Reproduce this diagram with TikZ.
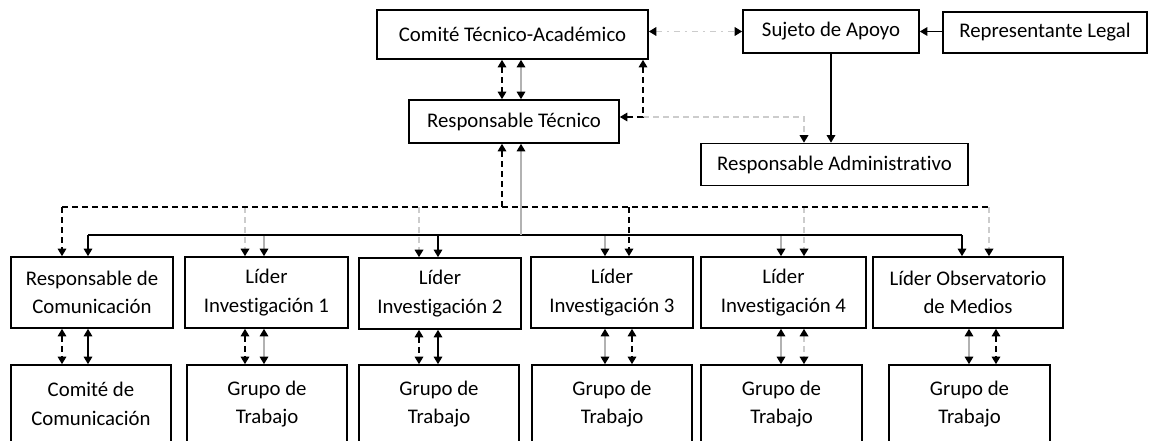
\documentclass[tikz,border=0pt]{standalone}
\usepackage{fontspec}
\setmainfont{Carlito}[Ligatures=NoCommon]
\usetikzlibrary{arrows.meta}

\begin{document}
\begin{tikzpicture}[x=1pt, y=-1pt,
  caja/.style={draw, line width=1.6pt, align=center, inner sep=0pt, font=\fontsize{20.8}{28.5}\selectfont},
  fila1/.style={caja, minimum height=71pt},
  fila2/.style={caja, minimum height=78pt, minimum width=160pt},
  sblk/.style={black, line width=1.4pt},
  sgry/.style={gray!60, line width=1.4pt},
  dblk/.style={black, line width=1.4pt, dash pattern=on 6pt off 4pt},
  dgry/.style={gray!40, line width=1.7pt, dash pattern=on 6pt off 4pt},
  dotgry/.style={gray!40, line width=1.7pt, dash pattern=on 6pt off 5pt on 2pt off 5pt},
  >={Triangle[width=8.5pt, length=7.5pt, color=black]}]
\useasboundingbox (0,0) rectangle (1149,441);
\clip (0,0) rectangle (1149,441);

\node[caja, minimum width=271pt, minimum height=49pt] (cta) at (512.5,34.5) {Comité Técnico-Académico};
\node[caja, minimum width=176pt, minimum height=43pt] (suj) at (831,31.5) {Sujeto de Apoyo};
\node[caja, minimum width=204pt, minimum height=41pt] (rep) at (1045,32.5) {Representante Legal};
\node[caja, minimum width=210pt, minimum height=43pt] (rtec) at (514,121.5) {Responsable Técnico};
\node[caja, minimum width=267pt, minimum height=42pt] (radm) at (834.5,164.5) {Responsable Administrativo};

\node[fila1, minimum width=162pt] (rc) at (92,292.5) {Responsable de\\Comunicación};
\node[fila1, minimum width=163pt] (li1) at (266.5,292.5) {Líder\\Investigación 1};
\node[fila1, minimum width=162pt] (li2) at (440,293.5) {Líder\\Investigación 2};
\node[fila1, minimum width=162pt] (li3) at (612,292.5) {Líder\\Investigación 3};
\node[fila1, minimum width=165pt] (li4) at (783.5,292.5) {Líder\\Investigación 4};
\node[fila1, minimum width=190pt] (lom) at (968,292.5) {Líder Observatorio\\de Medios};

\node[fila2] (cc) at (91,404) {Comité de\\Comunicación};
\node[fila2] (g1) at (267,404) {Grupo de\\Trabajo};
\node[fila2] (g2) at (439,404) {Grupo de\\Trabajo};
\node[fila2] (g3) at (612,404) {Grupo de\\Trabajo};
\node[fila2, minimum width=161pt] (g4) at (781.5,404) {Grupo de\\Trabajo};
\node[fila2, minimum width=161pt] (g5) at (969.5,404) {Grupo de\\Trabajo};

\coordinate (dtec) at (502,207);
\coordinate (stec) at (521,235);
\coordinate (esq) at (643,117);
\coordinate (eadm) at (804,117);

\draw[dotgry, <->] (cta.east |- suj.west) -- (suj.west);
\draw[sblk, ->] (rep.west |- suj.east) -- (suj.east);
\draw[sblk, ->] (suj.south) -- (suj.south |- radm.north);
\draw[dblk, <->] (dtec |- cta.south) -- (dtec |- rtec.north);
\draw[sgry, <->] (stec |- cta.south) -- (stec |- rtec.north);
\draw[dgry, ->] (esq) -- (eadm) -- (eadm |- radm.north);
\draw[dblk, <->] (esq |- cta.south) -- (esq) -- (rtec.east |- esq);

\foreach \n/\x/\s in {rc/62/dblk, li1/245/dgry, li2/419/dgry, li3/629/dblk, li4/804/dgry, lom/989/dgry} {
  \coordinate (db\n) at (\x,207);
  \draw[\s, ->] (db\n) -- (db\n |- \n.north);
}
\foreach \n/\x/\s in {rc/88/sblk, li1/264/sgry, li2/438/sblk, li3/605/sgry, li4/781/sgry, lom/962/sblk} {
  \coordinate (sb\n) at (\x,235);
  \draw[\s, ->] (sb\n) -- (sb\n |- \n.north);
}
\draw[dblk] (dbrc) -- (dblom);
\draw[sblk] (sbrc) -- (sblom);
\draw[dblk, ->] (dtec) -- (dtec |- rtec.south);
\draw[sgry, ->] (stec) -- (stec |- rtec.south);

\foreach \a/\b/\x/\s in {rc/cc/62/dblk, rc/cc/88/sblk, li1/g1/245/dblk, li1/g1/264/sgry, li2/g2/419/dblk, li2/g2/438/sblk,
  li3/g3/605/sgry, li3/g3/632/dblk, li4/g4/781/sgry, li4/g4/804/dgry, lom/g5/969/sgry, lom/g5/996/dblk}
  \draw[\s, <->] (\x,0 |- \a.south) -- (\x,0 |- \b.north);
\end{tikzpicture}
\end{document}
